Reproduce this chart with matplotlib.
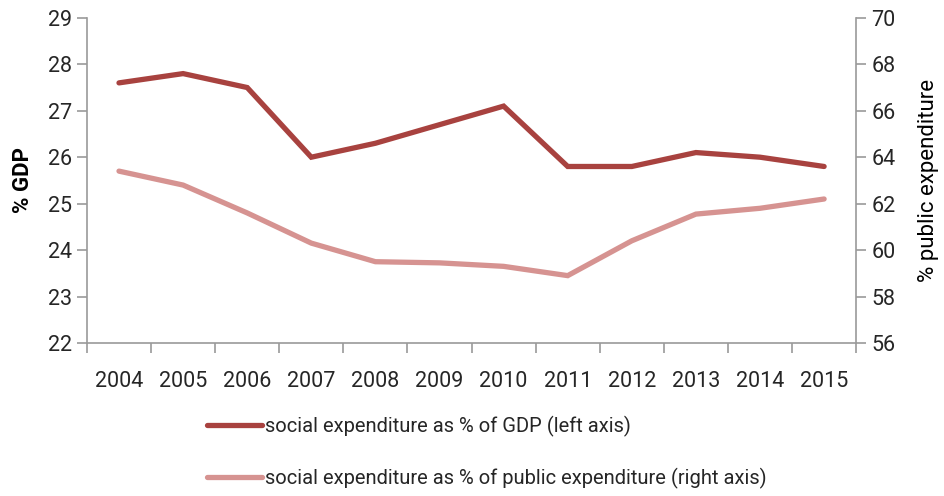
import numpy as np
import matplotlib.pyplot as plt
from matplotlib import font_manager

# narrow font if available, else Roboto
names = {f.name for f in font_manager.fontManager.ttflist}
fam = 'Liberation Sans Narrow' if 'Liberation Sans Narrow' in names else 'Roboto'
plt.rcParams['font.family'] = [fam, 'DejaVu Sans']

years = ['2004', '2005', '2006', '2007', '2008', '2009', '2010', '2011', '2012', '2013', '2014', '2015']
pct_gdp = [27.6, 27.8, 27.5, 26.0, 26.3, 26.7, 27.1, 25.8, 25.8, 26.1, 26.0, 25.8]
pct_public = [63.4, 62.8, 61.6, 60.3, 59.5, 59.45, 59.3, 58.9, 60.4, 61.55, 61.8, 62.2]

dark = '#A8423F'
light = '#D69391'
axis_grey = '#9A9A9A'
text_col = '#262626'

x = np.arange(len(years))

fig = plt.figure(figsize=(9.45, 4.96), dpi=100)
ax = fig.add_axes([0.092, 0.3085, 0.814, 0.6555])
ax2 = ax.twinx()

l1, = ax.plot(x, pct_gdp, color=dark, lw=3.8, solid_capstyle='round', solid_joinstyle='miter')
l2, = ax2.plot(x, pct_public, color=light, lw=3.8, solid_capstyle='round', solid_joinstyle='miter')

ax.set_xlim(-0.5, len(years) - 0.5)
ax.set_ylim(22, 29)
ax2.set_ylim(56, 70)
ax.set_yticks(range(22, 30))
ax2.set_yticks(range(56, 71, 2))

# tick marks between categories, labels centred
ax.set_xticks(np.arange(-0.5, len(years)), minor=False)
ax.set_xticklabels([])
ax.set_xticks(x, minor=True)
ax.set_xticklabels(years, minor=True)
ax.tick_params(axis='x', which='major', length=7, width=1.2, color=axis_grey, direction='out')
ax.tick_params(axis='x', which='minor', length=0, pad=20, labelsize=15.5, labelcolor=text_col)

for a in (ax, ax2):
    for s in a.spines.values():
        s.set_color(axis_grey)
        s.set_linewidth(1.2)
    a.spines['top'].set_visible(False)
    a.tick_params(axis='y', length=7, width=1.2, color=axis_grey, labelsize=15.5,
                  labelcolor=text_col, pad=4)
ax.spines['right'].set_visible(False)
ax2.spines['left'].set_visible(False)
ax2.spines['bottom'].set_visible(False)

ax.set_ylabel('% GDP', fontsize=16, color='black', fontweight='bold', labelpad=10)
ax2.set_ylabel('% public expenditure', fontsize=16, color='black', labelpad=16)

fig.legend([l1, l2],
           ['social expenditure as % of GDP (left axis)',
            'social expenditure as % of public expenditure (right axis)'],
           loc='upper left', bbox_to_anchor=(0.219, 0.162), frameon=False,
           fontsize=14.5, handlelength=2.75, handletextpad=0.15, labelspacing=1.55,
           labelcolor=text_col, borderaxespad=0, borderpad=0)

fig.savefig('out.png', dpi=100)
